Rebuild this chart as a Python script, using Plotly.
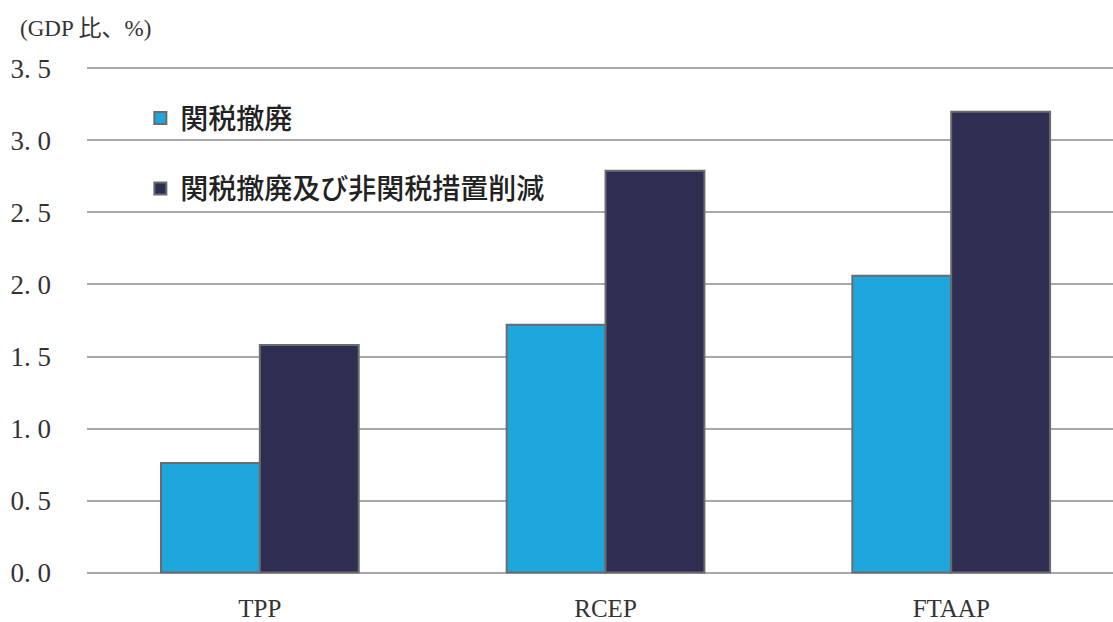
import plotly.graph_objects as go

categories = ["TPP", "RCEP", "FTAAP"]
tariff_only = [0.76, 1.72, 2.06]
tariff_and_ntm = [1.58, 2.79, 3.20]
series_names = ["関税撤廃", "関税撤廃及び非関税措置削減"]
tick_vals = [0, 0.5, 1.0, 1.5, 2.0, 2.5, 3.0, 3.5]
tick_text = ["0. 0", "0. 5", "1. 0", "1. 5", "2. 0", "2. 5", "3. 0", "3. 5"]

serif = "Liberation Serif, Noto Sans CJK JP, serif"
gothic = "Noto Sans CJK JP, sans-serif"

fig = go.Figure()
fig.add_trace(go.Bar(
    x=categories, y=tariff_only, name=series_names[0], legendgroup="a",
    marker=dict(color="#1ea7dd", line=dict(color="#6b6b6e", width=2)),
))
fig.add_trace(go.Bar(
    x=categories, y=tariff_and_ntm, name=series_names[1], legendgroup="b",
    marker=dict(color="#2d2e52", line=dict(color="#6b6b6e", width=2)),
))

fig.update_layout(
    width=1113, height=622,
    margin=dict(l=87, r=0, t=66.5, b=45.6),
    paper_bgcolor="white", plot_bgcolor="white",
    barmode="group", bargap=0.428, bargroupgap=0,
    showlegend=True,
    legend=dict(
        x=0.052, y=0.948, xanchor="left", yanchor="top",
        font=dict(family=gothic, size=28, color="#222222", weight=500),
        traceorder="grouped", tracegroupgap=31,
        bgcolor="rgba(0,0,0,0)", itemwidth=30,
    ),
    xaxis=dict(
        range=[-0.5, 2.468], showgrid=False, zeroline=False, showline=False,
        ticks="", ticklabelstandoff=17,
        tickfont=dict(family=serif, size=25, color="#333333"),
    ),
    yaxis=dict(
        range=[-0.01, 3.51], tickvals=tick_vals, ticktext=tick_text,
        showgrid=True, gridcolor="#a8a8ab", gridwidth=2, zeroline=False,
        showline=False, ticks="", ticklabelstandoff=35,
        tickfont=dict(family=serif, size=27, color="#333333"),
    ),
    annotations=[dict(
        text="(GDP 比、%)", xref="paper", yref="paper", x=-0.067, y=1.075,
        xanchor="left", yanchor="middle", showarrow=False,
        font=dict(family=serif, size=23, color="#333333"),
    )],
)

fig.write_html("out.html")
